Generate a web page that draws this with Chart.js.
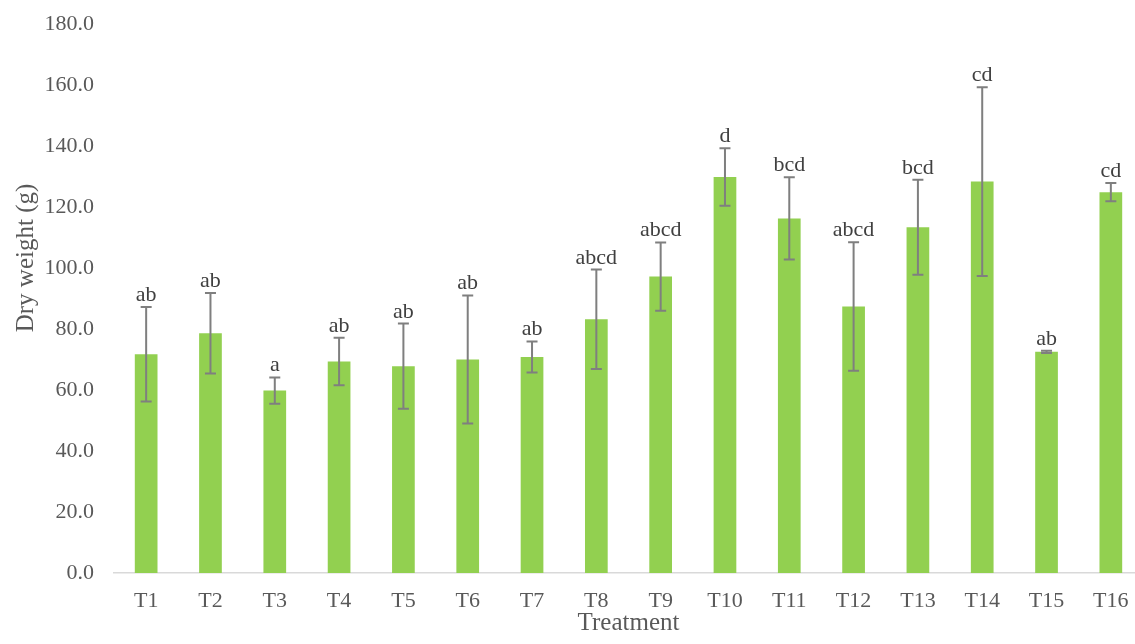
<!DOCTYPE html>
<html>
<head>
<meta charset="utf-8">
<script src="https://cdn.jsdelivr.net/npm/chart.js@4"></script>
<style>
  html, body { margin: 0; padding: 0; overflow: hidden; background: #fff; }
  #wrap { width: 1145px; height: 644px; }
</style>
</head>
<body>
<div id="wrap"><canvas id="chart"></canvas></div>
<script>
// values
const treatments = ["T1", "T2", "T3", "T4", "T5", "T6", "T7", "T8",
  "T9", "T10", "T11", "T12", "T13", "T14", "T15", "T16"];
const dryWeight = [71.8, 78.7, 59.9, 69.4, 67.9, 70.1, 70.9, 83.3,
  97.3, 130.0, 116.4, 87.5, 113.5, 128.5, 72.6, 125.0];
const errors = [15.5, 13.2, 4.3, 7.8, 14.0, 21.0, 5.1, 16.3,
  11.2, 9.4, 13.5, 21.1, 15.6, 31.0, 0.4, 3.0];
const letters = ["ab", "ab", "a", "ab", "ab", "ab", "ab", "abcd",
  "abcd", "d", "bcd", "abcd", "bcd", "cd", "ab", "cd"];
const yTicks = [0, 20, 40, 60, 80, 100, 120, 140, 160, 180];

const FONT = "'Liberation Serif', 'Times New Roman', serif";

// error bars, letters and axis titles
const extras = {
  id: "extras",
  afterDatasetsDraw(chart) {
    const { ctx, scales: { y }, chartArea } = chart;
    const meta = chart.getDatasetMeta(0);
    ctx.save();
    ctx.strokeStyle = "#7f7f7f";
    ctx.lineWidth = 2;
    meta.data.forEach((bar, i) => {
      const x = bar.x;
      const top = y.getPixelForValue(dryWeight[i] + errors[i]);
      const bot = y.getPixelForValue(dryWeight[i] - errors[i]);
      ctx.beginPath();
      ctx.moveTo(x, top); ctx.lineTo(x, bot);
      ctx.moveTo(x - 5.5, top); ctx.lineTo(x + 5.5, top);
      ctx.moveTo(x - 5.5, bot); ctx.lineTo(x + 5.5, bot);
      ctx.stroke();

      ctx.fillStyle = "#404040";
      ctx.font = "22px " + FONT;
      ctx.textAlign = "center";
      ctx.textBaseline = "alphabetic";
      ctx.fillText(letters[i], x, top - 6);
    });

    ctx.fillStyle = "#595959";
    ctx.font = "25px " + FONT;
    ctx.textAlign = "center";
    ctx.textBaseline = "alphabetic";
    ctx.fillText("Treatment", (chartArea.left + chartArea.right) / 2, 630);

    ctx.translate(33, 258);
    ctx.rotate(-Math.PI / 2);
    ctx.fillText("Dry weight (g)", 0, 0);
    ctx.restore();
  }
};

new Chart(document.getElementById("chart"), {
  type: "bar",
  data: {
    labels: treatments,
    datasets: [{
      data: dryWeight,
      backgroundColor: "#92d050",
      categoryPercentage: 1,
      barPercentage: 0.353
    }]
  },
  options: {
    responsive: true,
    maintainAspectRatio: false,
    animation: false,
    layout: { padding: { top: 24.7, right: 2, bottom: 0, left: 0 } },
    plugins: { legend: { display: false }, tooltip: { enabled: false } },
    scales: {
      x: {
        grid: { display: false, drawTicks: false },
        border: { display: true, color: "#d9d9d9", width: 1.5 },
        ticks: { color: "#595959", font: { family: FONT, size: 22 }, padding: 15 },
        afterFit(scale) { scale.height = 71; }
      },
      y: {
        min: 0,
        max: 180,
        afterBuildTicks(scale) { scale.ticks = yTicks.map(v => ({ value: v })); },
        grid: { display: false, drawTicks: false },
        border: { display: false },
        ticks: {
          color: "#595959",
          font: { family: FONT, size: 22 },
          padding: 20,
          callback: v => v.toFixed(1)
        },
        afterFit(scale) {
          scale.width = 114;
          scale.paddingTop = 0;
          scale.paddingBottom = 0;
        }
      }
    }
  },
  plugins: [extras]
});
</script>
</body>
</html>
